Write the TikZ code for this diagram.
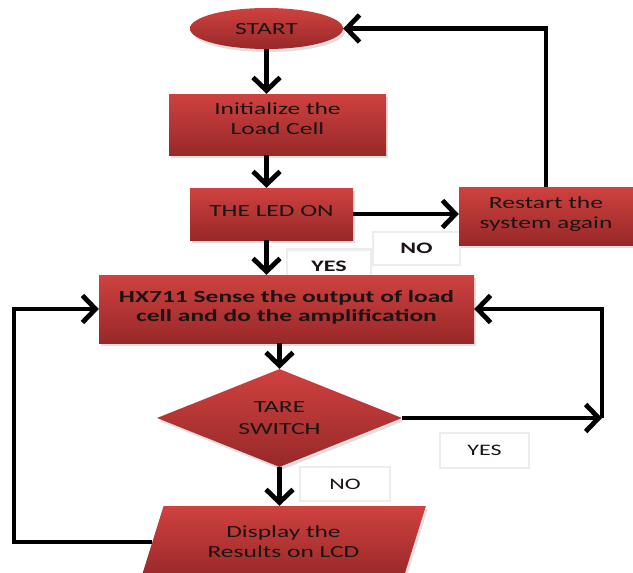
\documentclass[tikz,border=0pt]{standalone}
\usepackage{fontspec}
\setmainfont{Carlito}[FakeStretch=1.5]
\usetikzlibrary{shapes,shapes.geometric,arrows.meta,shadows,calc,positioning}
\definecolor{redtop}{RGB}{206,66,64}
\definecolor{redbot}{RGB}{152,40,40}
\definecolor{txt}{RGB}{28,20,20}
\begin{document}
\begin{tikzpicture}[x=1pt,y=-1pt,
      box/.style={rectangle, top color=redtop, bottom color=redbot, draw=none, text=txt, align=center, inner sep=0pt,
        font=\fontsize{17pt}{20pt}\selectfont, drop shadow={shadow xshift=2pt, shadow yshift=-3pt, opacity=0.25}},
      lbl/.style={rectangle, draw=black!7, line width=2.5pt, fill=white, text=txt, inner sep=0pt, font=\fontsize{16pt}{19pt}\selectfont},
      flow/.style={line width=4.8pt, -{Straight Barb[length=13pt, width=27pt]}},
      link/.style={line width=4.8pt}]
      \useasboundingbox (0,0) rectangle (633,573);
      \node[lbl, minimum width=87pt, minimum height=33pt, font=\fontsize{16pt}{19pt}\bfseries] (no1) at (416.5,248.5) {NO};
      \node[lbl, minimum width=84pt, minimum height=34pt, anchor=north, font=\fontsize{16pt}{19pt}\bfseries, text depth=-6pt] (yes1) at (329,248) {YES};
      \node[lbl, minimum width=89pt, minimum height=35pt] (yes2) at (484.5,450.5) {YES};
      \node[lbl, minimum width=90pt, minimum height=34pt] (no2) at (345,484) {NO};
      \node[box, ellipse, minimum width=153pt, minimum height=41pt, text depth=-3pt] (start) at (266.5,28.5) {START};
      \node[box, minimum width=217pt, minimum height=61pt, text depth=12pt] (init) at (277.5,124.5) {Initialize the\\Load Cell};
      \node[box, minimum width=163pt, minimum height=52pt, text depth=6pt] (led) at (271.5,214) {THE LED ON};
      \node[box, minimum width=174pt, minimum height=58pt, text depth=6pt] (restart) at (546,216) {Restart the\\system again};
      \node[box, minimum width=375pt, minimum height=68pt, font=\fontsize{17pt}{19pt}\bfseries, text depth=5pt] (hx) at (286.5,309) {HX711 Sense the output of load\\cell and do the amplification};
      \node[box, diamond, aspect=2.5, minimum width=245pt, minimum height=98pt, font=\fontsize{17pt}{22pt}\selectfont] (tare) at (279.5,418) {TARE\\SWITCH};
      \node[box, trapezium, trapezium left angle=66, trapezium right angle=114, trapezium stretches=true,
        minimum width=285pt, minimum height=72pt] (disp) at (283.5,542) {Display the\\Results on LCD};
      \coordinate (loopl) at (14,0);
      \coordinate (loopr) at (602,0);
      \draw[flow] (start.south) -- (start.south |- init.north);
      \draw[flow] (start.south |- init.south) -- (start.south |- led.north);
      \draw[flow] (start.south |- led.south) -- (start.south |- hx.north);
      \draw[flow] (led.east) -- (led.east -| restart.west);
      \draw[flow] (restart.north) |- (start.east);
      \draw[flow] (tare.north |- hx.south) -- (tare.north);
      \draw[flow] (tare.south) -- (tare.south |- disp.north);
      \draw[flow] (tare.east) -- (loopr |- tare.east);
      \draw[flow] (loopr |- tare.east) |- (hx.east);
      \draw[flow] (disp.west) -| (loopl |- hx.west) -- (hx.west);
\end{tikzpicture}
\end{document}
